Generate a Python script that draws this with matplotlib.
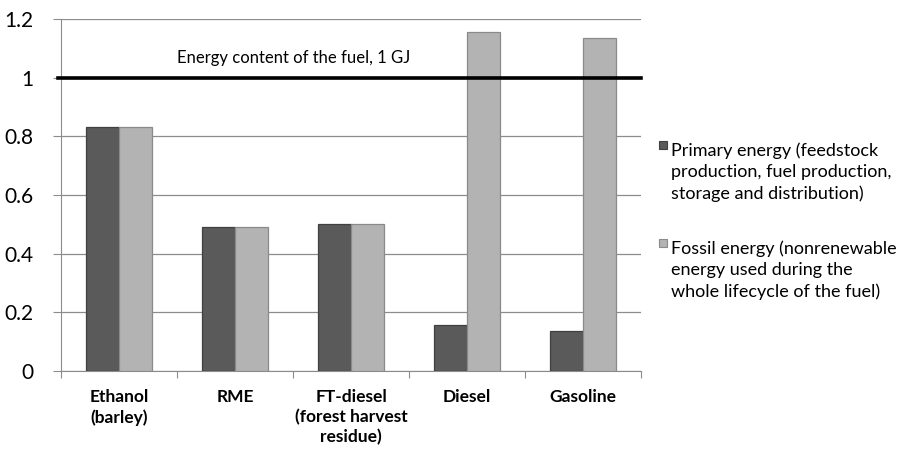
import numpy as np
import matplotlib; matplotlib.use("Agg")
import matplotlib.pyplot as plt
from matplotlib.patches import Rectangle

plt.rcParams["font.family"] = ["Lato", "DejaVu Sans"]

categories = ["Ethanol\n(barley)", "RME", "FT-diesel\n(forest harvest\nresidue)", "Diesel", "Gasoline"]
primary = [0.83, 0.49, 0.50, 0.155, 0.135]
fossil = [0.83, 0.49, 0.50, 1.155, 1.135]
labels = ["Primary energy (feedstock\nproduction, fuel production,\nstorage and distribution)",
          "Fossil energy (nonrenewable\nenergy used during the\nwhole lifecycle of the fuel)"]
fuel_line = 1.0
fuel_text = "Energy content of the fuel, 1 GJ"

c_dark, c_light = "#5a5a5a", "#b3b3b3"
e_dark, e_light = "#404040", "#8a8a8a"

fig = plt.figure(figsize=(8.97, 4.49), dpi=100)
ax = fig.add_axes([0.068, 0.174, 0.647, 0.784])
x = np.arange(len(categories))
w = 0.285
ax.bar(x - w/2, primary, w, color=c_dark, edgecolor=e_dark, lw=0.9, zorder=3)
ax.bar(x + w/2, fossil, w, color=c_light, edgecolor=e_light, lw=0.9, zorder=3)
ax.axhline(fuel_line, color="black", lw=2.6, zorder=4, xmin=-0.005, clip_on=False)
ax.text(1.50, 1.068, fuel_text, ha="center", va="center", fontsize=12)

ax.set_xlim(-0.5, 4.5)
ax.set_ylim(0, 1.2)
ax.set_yticks(np.arange(0, 1.21, 0.2))
ax.set_yticklabels(["0", "0.2", "0.4", "0.6", "0.8", "1", "1.2"], fontsize=15)
ax.yaxis.grid(True, color="#8c8c8c", lw=0.9, zorder=0)
ax.set_xticks(np.arange(-0.5, 4.6, 1))
ax.set_xticklabels([])
ax.set_xticks(x, minor=True)
ax.set_xticklabels(categories, minor=True, fontsize=12.5, fontweight="bold", linespacing=1.3)
ax.tick_params(axis="x", which="minor", length=0, pad=13)
ax.tick_params(axis="x", which="major", length=5, color="#8c8c8c")
ax.tick_params(axis="y", length=6, color="#8c8c8c", pad=14)
for s in ["top", "right"]:
    ax.spines[s].set_visible(False)
for s in ["left", "bottom"]:
    ax.spines[s].set_color("#8c8c8c")

# legend drawn by hand so the marker sits beside the first line
for i, (lab, fc, ec) in enumerate(zip(labels, [c_dark, c_light], [e_dark, e_light])):
    yc = 1 - (172 + i * 98) / 449
    ys = 1 - (145 + i * 98) / 449
    fig.patches.append(Rectangle((659 / 897, ys - 3.5 / 449), 7.5 / 897, 7.5 / 449,
                                 transform=fig.transFigure, facecolor=fc, edgecolor=ec, lw=0.8))
    fig.text(671 / 897, yc, lab, ha="left", va="center", fontsize=13, linespacing=1.4)

plt.savefig("out.png", dpi=100)
plt.close()
